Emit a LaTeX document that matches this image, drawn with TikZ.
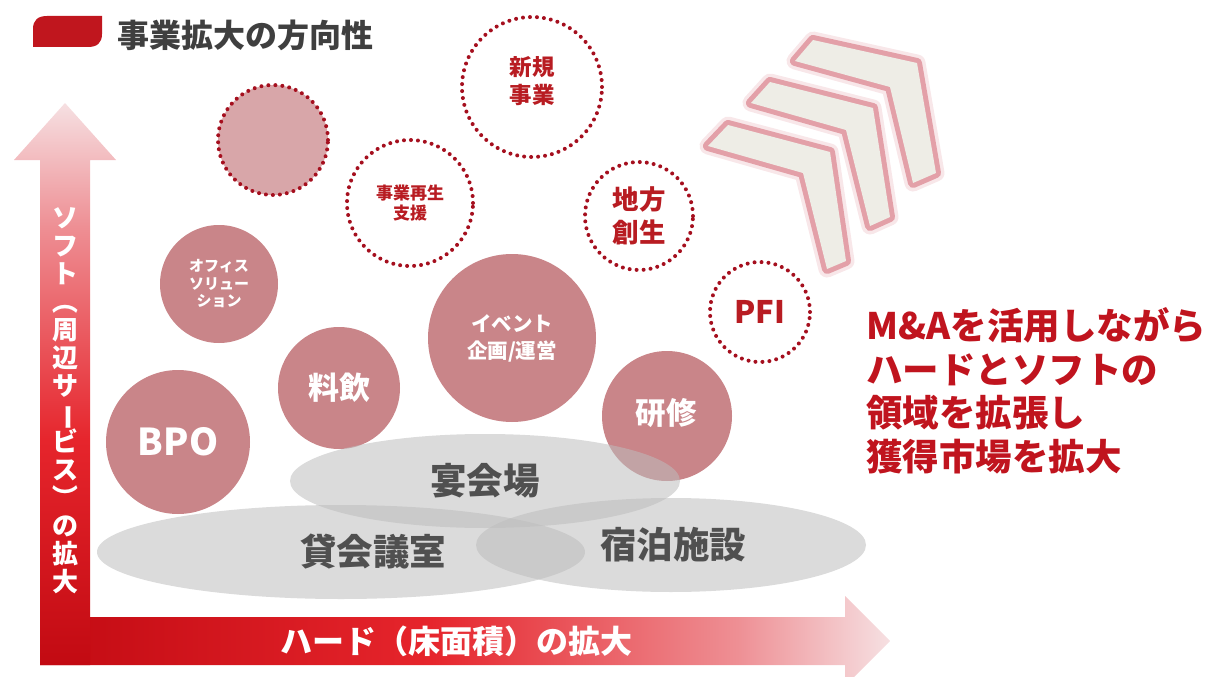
\documentclass[tikz,border=0pt]{standalone}
\usepackage{fontspec}
\setmainfont{Noto Sans CJK JP}
\usetikzlibrary{shapes.geometric}
\definecolor{titlered}{HTML}{C0161E}
\definecolor{titlegray}{HTML}{3F3F3F}
\definecolor{ardark}{HTML}{C20A12}
\definecolor{arred}{HTML}{E6252C}
\definecolor{armid}{HTML}{EE8F94}
\definecolor{arpale}{HTML}{F6E0E2}
\definecolor{rose}{HTML}{C98589}
\definecolor{palerose}{HTML}{D8A6A9}
\definecolor{dotred}{HTML}{A50F1E}
\definecolor{labelred}{HTML}{B81C22}
\definecolor{ellgray}{HTML}{BDBDBD}
\definecolor{elltext}{HTML}{505050}
\definecolor{chevpink}{HTML}{E3A0A8}
\definecolor{chevbeige}{HTML}{EEEDE6}
\definecolor{msgred}{HTML}{C0141E}
\pgfdeclareverticalshading{vgrad}{100bp}{color(0bp)=(ardark); color(25bp)=(ardark); color(45bp)=(arred); color(64bp)=(armid); color(75bp)=(arpale); color(100bp)=(arpale)}
\pgfdeclarehorizontalshading{hgrad}{100bp}{color(0bp)=(ardark); color(25bp)=(ardark); color(48bp)=(arred); color(66bp)=(armid); color(75bp)=(arpale); color(100bp)=(arpale)}
\newcommand\vrot[1]{\smash{\rotatebox[origin=c]{-90}{#1}}}
\newcommand\chevronshape[6]{%
  \draw[chevglow] #1 -- #2 -- #3 -- #4 -- #5 -- #6 -- cycle;
  \draw[chevedge] #1 -- #2 -- #3 -- #4 -- #5 -- #6 -- cycle;
  \fill[chevbeige] #1 -- #2 -- #3 -- #4 -- #5 -- #6 -- cycle;}
\tikzset{
  solidcirc/.style={circle, fill=rose, text=white, inner sep=0pt, align=center},
  dotcirc/.style={circle, fill=white, draw=dotred, line width=4pt, dash pattern=on 0pt off 7pt, line cap=round, inner sep=0pt},
  dotlabel/.style={text=labelred, inner sep=0pt, align=center, font=#1\bfseries},
  ell/.style={ellipse, fill=ellgray, fill opacity=0.55, inner sep=0pt},
  elllabel/.style={text=elltext, inner sep=0pt, font=\fontsize{36.5}{40}\selectfont\bfseries},
  arrowlabel/.style={text=white, inner sep=0pt, align=center, font=#1\bfseries},
  chevglow/.style={chevpink, line width=17pt, opacity=0.25, line join=round},
  chevedge/.style={chevpink, line width=10pt, line join=round},
}
\begin{document}
\begin{tikzpicture}[x=1pt,y=-1pt]
\useasboundingbox (0,0) rectangle (1219,677);
% title
\fill[titlered] (33,47) -- (33,29) .. controls (33,20) and (38,16) .. (47,16) -- (102,16) -- (102,34) .. controls (102,43) and (97,47) .. (88,47) -- cycle;
\node[anchor=west, text=titlegray, inner sep=0pt, font=\fontsize{32}{36}\selectfont\bfseries] (title) at (117,35) {事業拡大の方向性};
% chevrons (back to front)
\chevronshape{(795,61)}{(813,40)}{(917,63)}{(936,173)}{(913,183)}{(890,87)}
\chevronshape{(751,103)}{(770,82)}{(873,108)}{(890,217)}{(870,226)}{(846,130)}
\chevronshape{(708,146)}{(728,125)}{(830,152)}{(846,261)}{(827,269)}{(803,173)}
% axes
\path[shading=hgrad] (40,617) -- (845,617) -- (845,596) -- (890,641) -- (845,686) -- (845,665) -- (40,665) -- cycle;
\path[shading=vgrad] (40,665) -- (40,160) -- (14,160) -- (65,103) -- (116,160) -- (90,160) -- (90,665) -- cycle;
\node[arrowlabel=\fontsize{32}{36}\selectfont] (hlabel) at (456,641) {ハード（床面積）の拡大};
\node[arrowlabel=\fontsize{26}{28}\selectfont] (vlabel) at (65,401) {ソ\\フ\\ト\\\vrot{（}\\周\\辺\\サ\\\vrot{ー}\\ビ\\ス\\\vrot{）}\\の\\拡\\大};
% dotted circles
\node[dotcirc, fill=palerose, minimum size=110pt] (pale) at (273,140) {};
\node[dotcirc, minimum size=140pt] (shinki) at (532,87) {};
\node[dotlabel=\fontsize{22.5}{28}\selectfont] (shinkit) at ([yshift=6pt]shinki.center) {新規\\事業};
\node[dotcirc, minimum size=126pt] (saisei) at (410,203) {};
\node[dotlabel=\fontsize{17}{20}\selectfont] (saiseit) at (saisei.center) {事業再生\\支援};
\node[dotcirc, minimum size=108pt] (chiho) at (639,216) {};
\node[dotlabel=\fontsize{26.5}{33}\selectfont] (chihot) at (chiho.center) {地方\\創生};
\node[dotcirc, minimum size=100pt] (pfi) at (760,312) {};
\node[dotlabel=\fontsize{31}{34}\selectfont] (pfit) at (pfi.center) {PFI};
% solid circles
\node[solidcirc, minimum size=118pt, font=\fontsize{15}{17.5}\selectfont\bfseries] (office) at (219,284) {オフィス\\ソリュー\\ション};
\node[solidcirc, minimum size=122pt, font=\fontsize{31}{34}\selectfont\bfseries] (ryoin) at (339,388) {料飲};
\node[solidcirc, minimum size=168pt, font=\fontsize{20.5}{27}\selectfont\bfseries] (event) at (512,338) {イベント\\企画/運営};
\node[solidcirc, minimum size=130pt] (kenshu) at (667,416) {};
\node[solidcirc, minimum size=144pt, font=\fontsize{37}{40}\selectfont\bfseries] (bpo) at (178,442) {BPO};
% ellipses
\node[ell, minimum width=390pt, minimum height=94pt] (enkai) at (485,481) {};
\node[ell, minimum width=488pt, minimum height=94pt] (kaigi) at (341,552) {};
\node[ell, minimum width=390pt, minimum height=94pt] (shuku) at (671,545) {};
\node[text=white, inner sep=0pt, font=\fontsize{30.5}{32}\selectfont\bfseries] (kenshut) at (666,413) {研修};
\node[elllabel] (enkait) at (485,481) {宴会場};
\node[elllabel] (kaigit) at (373,552) {貸会議室};
\node[elllabel] (shukut) at (673,545) {宿泊施設};
% message
\node[anchor=west, text=msgred, inner sep=0pt, align=left, font=\fontsize{36.5}{43.5}\selectfont\bfseries] (msg) at (866,391) {M\&Aを活用しながら\\ハードとソフトの\\領域を拡張し\\獲得市場を拡大};
\end{tikzpicture}
\end{document}
